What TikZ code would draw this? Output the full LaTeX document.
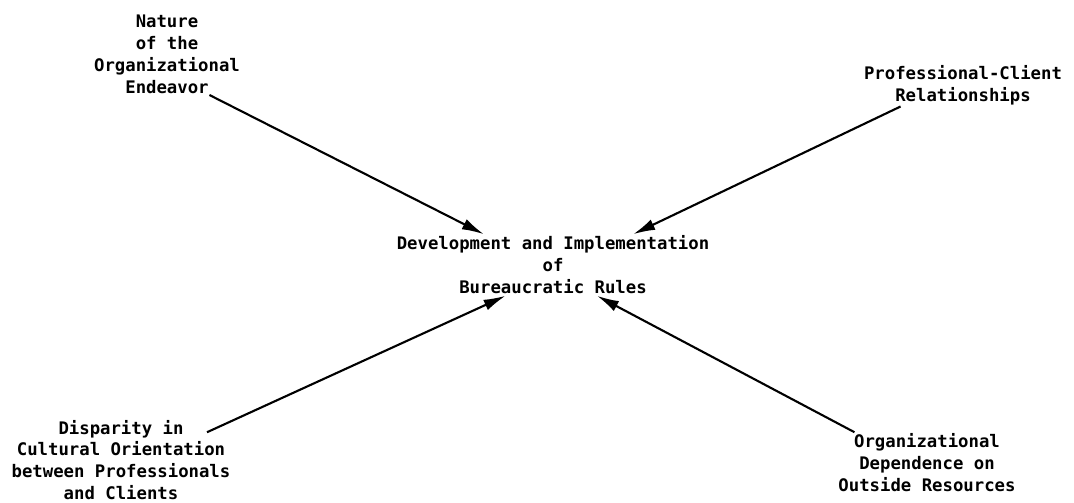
\documentclass[tikz,border=0pt]{standalone}
\usepackage{fontspec}
\setmonofont{DejaVu Sans Mono}
\usetikzlibrary{arrows.meta}

\begin{document}
\begin{tikzpicture}[x=0.025cm, y=-0.025cm, >={Latex[length=5.5mm, width=2.8mm]},
    factor/.style={font=\ttfamily\bfseries\fontsize{12.3}{15.6}\selectfont, align=center, inner sep=1pt},
    link/.style={->, line width=1.5pt}]
  \useasboundingbox (0,0) rectangle (1074,503);

  % outcome in the middle
  \node[factor] (rules) at (553,265) {Development and Implementation\\of\\Bureaucratic Rules};

  % the four influences
  \node[factor] (nature) at (167,54) {Nature\\of the\\Organizational\\Endeavor};
  \node[factor] (client) at (963,85) {Professional-Client\\Relationships};
  \node[factor] (disparity) at (121,460) {Disparity in\\Cultural Orientation\\between Professionals\\and Clients};
  \node[factor] (depend) at (927,463) {Organizational\\Dependence on\\Outside Resources};

  \draw[link] (nature.316) -- (rules.156);
  \draw[link] (client.199) -- (rules.21);
  \draw[link] ([shift={(86,14)}]disparity.north) -- (rules.213);
  \draw[link] (depend.157) -- (rules.325);
\end{tikzpicture}
\end{document}
